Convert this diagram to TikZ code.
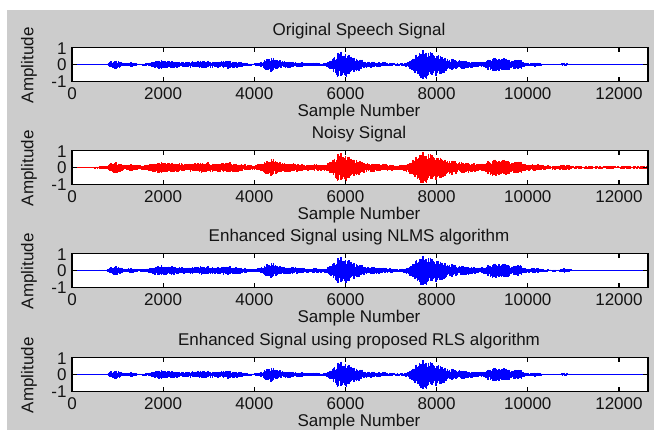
\documentclass[tikz,border=0pt]{standalone}
\usepackage{fontspec}
\setmainfont{Liberation Sans}
\definecolor{bgray}{RGB}{204,204,204}
\definecolor{txt}{RGB}{20,20,20}
\begin{document}
\begin{tikzpicture}[x=0.5pt,y=-0.5pt,
  lbl/.style={font=\fontsize{8.5}{9}\selectfont, inner sep=0pt, text=txt},
  sig/.style={line width=0.8pt},
  frame/.style={draw=black, line width=0.65pt},
  declare function={
    gb(\x,\c,\w)=exp(-(min(abs(\x-\c)/\w,4))^2);
    env(\x)=0.035+0.22*gb(\x,0.95,0.15)+0.09*gb(\x,1.3,0.1)+0.24*gb(\x,2.0,0.3)
      +0.19*gb(\x,2.8,0.45)+0.18*gb(\x,3.5,0.3)+0.36*gb(\x,4.35,0.2)
      +0.15*gb(\x,4.8,0.35)+0.06*gb(\x,5.35,0.15)+0.70*gb(\x,5.9,0.22)
      +0.28*gb(\x,6.25,0.3)+0.09*gb(\x,6.8,0.3)+0.80*gb(\x,7.75,0.3)
      +0.30*gb(\x,8.2,0.3)+0.17*gb(\x,8.7,0.3)+0.36*gb(\x,9.25,0.2)
      +0.30*gb(\x,9.55,0.15)+0.27*gb(\x,9.8,0.12)+0.09*gb(\x,10.15,0.15)
      +0.07*gb(\x,10.8,0.08);
  }]
\useasboundingbox (0,0) rectangle (654,430);
\fill[white] (0,0) rectangle (654,430);
\fill[bgray] (7,10) rectangle (654,430);
% plot boxes (zero-line centres at 64.5, 167.5, 270.5, 374.5)
\foreach \cy/\col in {64.5/blue,167.5/red,270.5/blue,374.5/blue}{
  \fill[white] (72,\cy-17.25) rectangle (648,\cy+17.25);
  \draw[draw=\col, line width=0.55pt] (72,\cy) -- (648,\cy);
}
% signals
\pgfmathsetseed{7}
\foreach \i in {0,...,632}{
  \pgfmathsetmacro\t{\i*0.02}
  \pgfmathsetmacro\xx{72+\t*45.58}
  \pgfmathsetmacro\e{and(\t>0.78,\t<10.95)*env(\t)}
  \pgfmathsetmacro\ra{0.45+0.55*rnd}
  \pgfmathsetmacro\rb{0.45+0.6*rnd}
  \pgfmathsetmacro\rc{0.3+0.7*rnd}
  \pgfmathsetmacro\rd{0.3+0.7*rnd}
  \pgfmathsetmacro\n{(\t>=0.5)*0.1}
  \pgfmathsetmacro\m{and(\t>=0.5,\t<=11.05)*0.04}
  \draw[blue,sig] (\xx,{64.5-17.25*\e*\ra}) -- (\xx,{64.5+17.25*\e*\rb});
  \draw[red,sig] (\xx,{167.5-17.25*(\e*\ra+\n*\rc)}) -- (\xx,{167.5+17.25*(\e*\rb+\n*\rd)});
  \draw[blue,sig] (\xx,{270.5-17.25*(\e*\ra+\m*\rc)}) -- (\xx,{270.5+17.25*(\e*\rb+\m*\rd)});
  \draw[blue,sig] (\xx,{374.5-17.25*\e*\ra}) -- (\xx,{374.5+17.25*\e*\rb});
}
% frames, ticks and labels
\foreach \cy/\k/\ttl in {64.5/1/{Original Speech Signal},167.5/2/{Noisy Signal},270.5/3/{Enhanced Signal using NLMS algorithm},374.5/4/{Enhanced Signal using proposed RLS algorithm}}{
  \pgfmathsetmacro\tp{\cy-17.25}
  \draw[frame] (72,\tp) rectangle (648,\tp+34.5);
  \foreach \v in {0,2000,...,12000}{
    \pgfmathsetmacro\px{72+\v*0.04558}
    \draw[frame] (\px,\tp) -- (\px,\tp+5);
    \draw[frame] (\px,\tp+34.5) -- (\px,\tp+29.5);
    \node[lbl] (xt\k-\v) at (\px,\tp+46.5) {\v};
  }
  \draw[frame] (72,\cy) -- (77,\cy);
  \draw[frame] (648,\cy) -- (643,\cy);
  \node[lbl, anchor=east] (y1-\k) at (67,\tp+1) {1};
  \node[lbl, anchor=east] (y0-\k) at (67,\tp+17.5) {0};
  \node[lbl, anchor=east] (ym-\k) at (67,\tp+34) {-1};
  \node[lbl, rotate=90] (amp\k) at (29,\tp+18) {Amplitude};
  \node[lbl] (ttl\k) at (359,\tp-16.5) {\ttl};
  \node[lbl] (sn\k) at (359,\tp+65) {Sample Number};
}
\end{tikzpicture}
\end{document}
